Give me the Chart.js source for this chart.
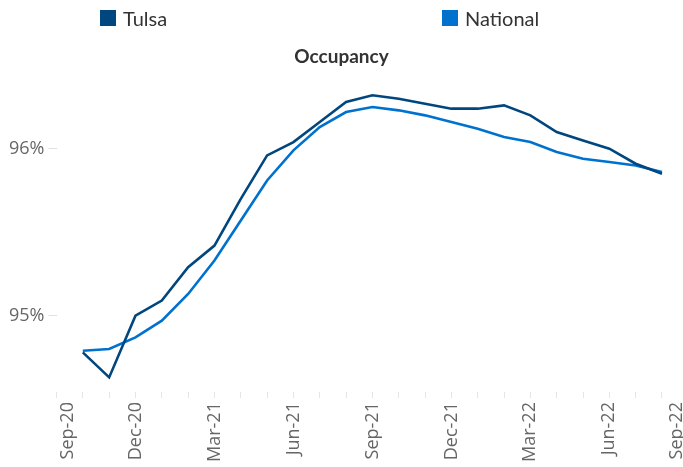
<!DOCTYPE html>
<html><head><meta charset="utf-8">
<script src="https://cdn.jsdelivr.net/npm/chart.js@4"></script>
<style>
html,body{margin:0;padding:0;background:#fff;overflow:hidden}
#wrap{position:relative;width:683px;height:467px}
canvas{position:absolute;left:0;top:0}
.lg{position:absolute;top:6px;font:20px Lato, sans-serif;color:#333;display:flex;align-items:center;white-space:nowrap;line-height:24px}
.sw{display:inline-block;width:16px;height:16px;margin-right:7px}
</style></head><body>
<div id="wrap">
<canvas id="c" width="683" height="467"></canvas>
</div>
<script>
// ---- data ----
const months = ['Sep-20','Oct-20','Nov-20','Dec-20','Jan-21','Feb-21','Mar-21','Apr-21','May-21','Jun-21','Jul-21','Aug-21','Sep-21','Oct-21','Nov-21','Dec-21','Jan-22','Feb-22','Mar-22','Apr-22','May-22','Jun-22','Jul-22','Aug-22','Sep-22'];
const seriesNames = ['Tulsa','National'];
const seriesColors = ['#00467F','#0072CE'];
const tulsa = [94.78,94.63,95.00,95.09,95.29,95.42,95.70,95.96,96.04,96.16,96.28,96.32,96.30,96.27,96.24,96.24,96.26,96.20,96.10,96.05,96.00,95.91,95.85];
const national = [94.79,94.80,94.87,94.97,95.13,95.33,95.57,95.81,95.99,96.13,96.22,96.25,96.23,96.20,96.16,96.12,96.07,96.04,95.98,95.94,95.92,95.90,95.86];
const firstDataMonth = 'Oct-20';
const xTickLabels = ['Sep-20','Dec-20','Mar-21','Jun-21','Sep-21','Dec-21','Mar-22','Jun-22','Sep-22'];
const yTickValues = [95, 96];

// ---- build ----
const start = months.indexOf(firstDataMonth);
const toPts = arr => arr.map((v,i)=>({x:start+i, y:v}));
const XMAX = 23.57, XMIN = 0;

const wrap = document.getElementById('wrap');
const legendPos = [100, 442];
seriesNames.forEach((n,i)=>{
  const d = document.createElement('div');
  d.className='lg'; d.style.left = legendPos[i]+'px';
  d.innerHTML = '<span class="sw" style="background:'+seriesColors[i]+'"></span>'+n;
  wrap.appendChild(d);
});

new Chart(document.getElementById('c'), {
  type: 'line',
  data: {
    datasets: [
      {label: seriesNames[0], data: toPts(tulsa), borderColor: seriesColors[0], backgroundColor: seriesColors[0], borderWidth: 2.6, pointRadius: 0, tension: 0, fill: false},
      {label: seriesNames[1], data: toPts(national), borderColor: seriesColors[1], backgroundColor: seriesColors[1], borderWidth: 2.6, pointRadius: 0, tension: 0, fill: false}
    ]
  },
  options: {
    responsive: false, animation: false, devicePixelRatio: 1,
    layout: {padding: {left: 0, right: 0, top: 0, bottom: 1}},
    plugins: {
      legend: {display: false},
      tooltip: {enabled: false},
      title: {display: true, text: 'Occupancy', color: '#333', font: {family: 'Lato', size: 19, weight: 'bold'}, padding: {top: 45, bottom: 12}}
    },
    scales: {
      x: {
        type: 'linear', min: XMIN, max: XMAX,
        border: {display: false},
        grid: {drawOnChartArea: false, tickLength: 6, color: ctx => (ctx.tick && ctx.tick.mark === false) ? 'rgba(0,0,0,0)' : '#e6e6e6'},
        afterFit: s => { s.paddingLeft = 0; s.paddingRight = 6; },
        afterBuildTicks: s => {
          const t = [];
          for (let m = 0; m < months.length; m++) {
            if (m > XMAX) break;
            t.push({value: m, lab: ''});
          }
          xTickLabels.forEach(l => {
            let m = months.indexOf(l);
            if (m === 0) { t.push({value: 0.45, lab: l, mark: false}); return; }
            if (m > XMAX) { t.push({value: XMAX, lab: l, mark: false}); return; }
            const ex = t.find(o => o.value === m);
            if (ex) ex.lab = l;
          });
          t.sort((a,b)=>a.value-b.value);
          s.ticks = t;
        },
        ticks: {autoSkip: false, minRotation: 90, maxRotation: 90, padding: 4, color: '#666', font: {family: 'Open Sans', size: 18},
          callback: function(v, i, ticks){ return ticks[i].lab || ''; }}
      },
      y: {
        min: 94.542, max: 96.413,
        border: {display: false},
        afterFit: s => { s.width = 56.5; },
        afterBuildTicks: s => { s.ticks = yTickValues.map(v => ({value: v})); },
        grid: {drawOnChartArea: false, tickLength: 8, color: '#e0e0e0'},
        ticks: {padding: 4, color: '#666', font: {family: 'Open Sans', size: 18}, callback: v => v + '%'}
      }
    }
  }
});
</script>
</body></html>
